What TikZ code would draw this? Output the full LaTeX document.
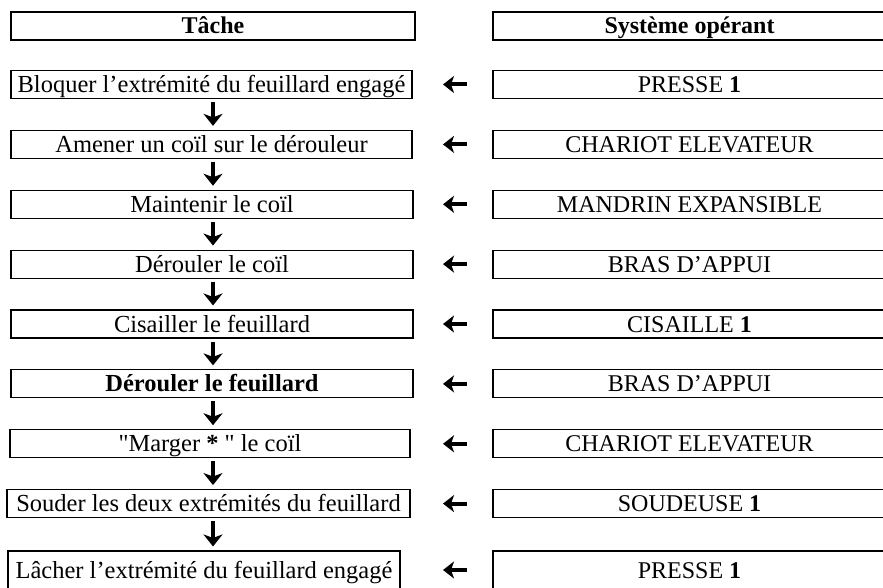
\documentclass[tikz,border=0pt]{standalone}
\usepackage{fontspec}
\setmainfont{Liberation Serif}[Ligatures=TeXOff]
\usetikzlibrary{arrows.meta}
\tikzset{
  box/.style={draw, line width=1.1pt, minimum height=28pt, inner sep=0pt, text height=21pt, text depth=5pt, anchor=center},
  tfont/.style={font=\fontsize{24.5}{28}\selectfont},
  sfont/.style={font=\fontsize{24}{28}\selectfont},
  darr/.style={line width=4pt, -{Stealth[length=12pt,width=19pt,inset=3.5pt]}, shorten <=3pt, shorten >=4pt},
  larr/.style={line width=4pt, -{Stealth[length=11pt,width=17pt,inset=3pt]}},
}
\begin{document}
\begin{tikzpicture}[x=1pt,y=-1pt]
\useasboundingbox (0,0) rectangle (883,588);
\coordinate (ax) at (213,0);
\coordinate (xl) at (443,0);
\coordinate (xr) at (467,0);
% headers
\node[box, sfont, minimum width=404pt] (h1) at (213,26) {\textbf{Tâche}};
\node[box, sfont, minimum width=393pt] (h2) at (689.5,26) {\textbf{Système opérant}};
% task column
\node[box, tfont, minimum width=401pt] (t1) at (211.5,84.5) {Bloquer l’extrémité du feuillard engagé};
\node[box, tfont, minimum width=401pt] (t2) at (211.5,144.4) {Amener un coïl sur le dérouleur};
\node[box, tfont, minimum width=402pt] (t3) at (212,204.3) {Maintenir le coïl};
\node[box, tfont, minimum width=402pt] (t4) at (212,264.1) {Dérouler le coïl};
\node[box, tfont, minimum width=402pt] (t5) at (212,324) {Cisailler le feuillard};
\node[box, tfont, minimum width=402pt] (t6) at (212,383.9) {\textbf{Dérouler le feuillard}};
\node[box, tfont, minimum width=400pt] (t7) at (210,443.8) {"Marger \textbf{*} " le coïl};
\node[box, tfont, minimum width=403pt] (t8) at (208.5,503.6) {Souder les deux extrémités du feuillard};
\node[box, tfont, minimum width=392pt, minimum height=38pt] (t9) at (204,570) {Lâcher l’extrémité du feuillard engagé};
% system column
\node[box, sfont, minimum width=393pt] (s1) at (689.5,84.5) {PRESSE \textbf{1}};
\node[box, sfont, minimum width=393pt] (s2) at (689.5,144.4) {CHARIOT ELEVATEUR};
\node[box, sfont, minimum width=393pt] (s3) at (689.5,204.3) {MANDRIN EXPANSIBLE};
\node[box, sfont, minimum width=393pt] (s4) at (689.5,264.1) {BRAS D’APPUI};
\node[box, sfont, minimum width=393pt] (s5) at (689.5,324) {CISAILLE \textbf{1}};
\node[box, sfont, minimum width=393pt] (s6) at (689.5,383.9) {BRAS D’APPUI};
\node[box, sfont, minimum width=393pt] (s7) at (689.5,443.8) {CHARIOT ELEVATEUR};
\node[box, sfont, minimum width=393pt] (s8) at (689.5,503.6) {SOUDEUSE \textbf{1}};
\node[box, sfont, minimum width=393pt, minimum height=38pt] (s9) at (689.5,570) {PRESSE \textbf{1}};
% down arrows
\foreach \a/\b in {t1/t2,t2/t3,t3/t4,t4/t5,t5/t6,t6/t7,t7/t8,t8/t9}
  \draw[darr] (\a.south -| ax) -- (\b.north -| ax);
% left arrows
\foreach \i in {1,...,9}
  \draw[larr] (s\i.west -| xr) -- (t\i.east -| xl);
\end{tikzpicture}
\end{document}
